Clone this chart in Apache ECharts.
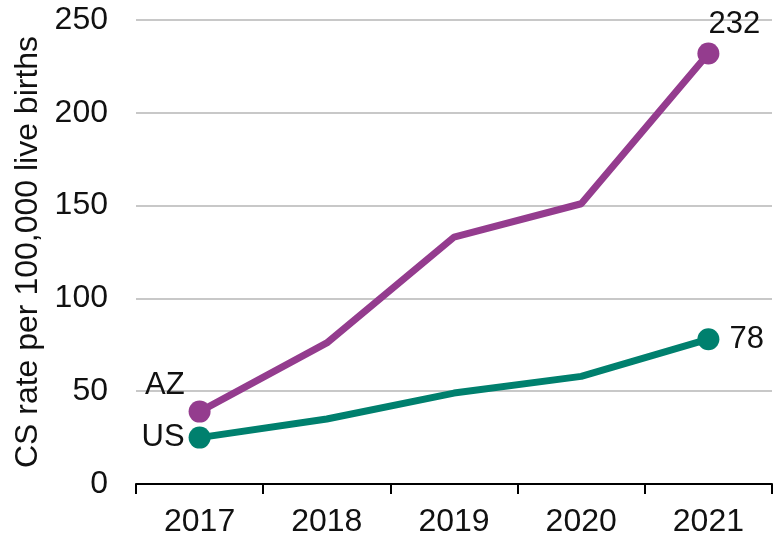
<!DOCTYPE html>
<html>
<head>
<meta charset="utf-8">
<script src="https://cdn.jsdelivr.net/npm/echarts@6/dist/echarts.min.js"></script>
<style>
  html, body { margin: 0; padding: 0; background: #fff; }
  #main { width: 775px; height: 539px; }
</style>
</head>
<body>
<div id="main"></div>
<script>
// data
var years = ['2017', '2018', '2019', '2020', '2021'];
var azRate = [39, 76, 133, 151, 232];
var usRate = [25, 35, 49, 58, 78];
var yTicks = [0, 50, 100, 150, 200, 250];

var purple = '#943c8e';
var teal = '#00806e';
var fontFam = 'Liberation Sans, Helvetica, Arial, sans-serif';

var myChart = echarts.init(document.getElementById('main'));

// only first and last point get a dot
function endSymbol(val, params) {
    var i = params.dataIndex;
    return (i === 0 || i === years.length - 1) ? 22 : 0;
}

function buildData(values, firstLbl, lastLbl) {
    var out = [];
    for (var i = 0; i < values.length; i++) {
        var item = { value: values[i] };
        if (i === 0) item.label = firstLbl;
        else if (i === values.length - 1) item.label = lastLbl;
        else item.label = { show: false };
        out.push(item);
    }
    return out;
}

var option = {
    animation: false,
    grid: {
        left: 136,
        right: 3,
        top: 20,
        bottom: 55,
        containLabel: false,
        outerBoundsMode: 'none'
    },
    xAxis: {
        type: 'category',
        data: years,
        boundaryGap: true,
        axisLine: { lineStyle: { color: '#000', width: 2 } },
        axisTick: { show: true, length: 10, lineStyle: { color: '#000', width: 2 } },
        axisLabel: { color: '#111', fontSize: 32, fontFamily: fontFam, margin: 22 },
        splitLine: { show: false }
    },
    yAxis: {
        type: 'value',
        min: yTicks[0],
        max: yTicks[yTicks.length - 1],
        interval: 50,
        name: 'CS rate per 100,000 live births',
        nameLocation: 'middle',
        nameRotate: 90,
        nameGap: 88,
        nameTextStyle: { color: '#111', fontSize: 32, fontFamily: fontFam },
        axisLine: { show: false },
        axisTick: { show: false },
        axisLabel: { color: '#111', fontSize: 32, fontFamily: fontFam, margin: 28 },
        splitLine: {
            show: true,
            lineStyle: { color: '#c8c8c8', width: 2 },
            showMinLine: false
        }
    },
    series: [
        {
            name: 'AZ',
            type: 'line',
            data: buildData(azRate,
                { show: true, formatter: 'AZ', position: 'left', distance: 4, offset: [0, -26] },
                { show: true, formatter: '{c}', position: 'top', distance: 2, offset: [26, 0] }),
            symbol: 'circle',
            symbolSize: endSymbol,
            showAllSymbol: true,
            itemStyle: { color: purple },
            lineStyle: { color: purple, width: 7 },
            label: { color: '#111', fontSize: 31, fontFamily: fontFam },
            z: 3
        },
        {
            name: 'US',
            type: 'line',
            data: buildData(usRate,
                { show: true, formatter: 'US', position: 'left', distance: 4 },
                { show: true, formatter: '{c}', position: 'right', distance: 10 }),
            symbol: 'circle',
            symbolSize: endSymbol,
            showAllSymbol: true,
            itemStyle: { color: teal },
            lineStyle: { color: teal, width: 7 },
            label: { color: '#111', fontSize: 31, fontFamily: fontFam },
            z: 3
        }
    ]
};
myChart.setOption(option);
</script>
</body>
</html>
